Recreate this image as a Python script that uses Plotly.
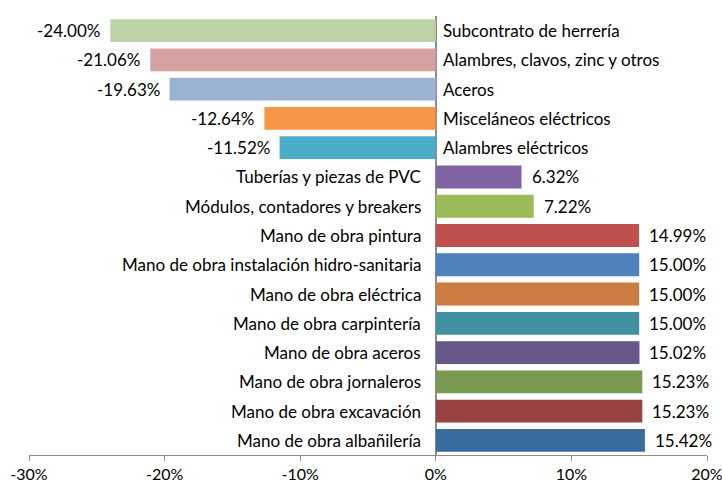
import plotly.graph_objects as go

categories = [
    "Subcontrato de herrería",
    "Alambres, clavos, zinc y otros",
    "Aceros",
    "Misceláneos eléctricos",
    "Alambres eléctricos",
    "Tuberías y piezas de PVC",
    "Módulos, contadores y breakers",
    "Mano de obra pintura",
    "Mano de obra instalación hidro-sanitaria",
    "Mano de obra eléctrica",
    "Mano de obra carpintería",
    "Mano de obra aceros",
    "Mano de obra jornaleros",
    "Mano de obra excavación",
    "Mano de obra albañilería",
]
values = [-24.00, -21.06, -19.63, -12.64, -11.52, 6.32, 7.22, 14.99, 15.00,
          15.00, 15.00, 15.02, 15.23, 15.23, 15.42]
colors = ["#BCD3A6", "#D5A2A1", "#9CB2D2", "#F79646", "#4BACC6", "#8064A2",
          "#9BBB59", "#C0504D", "#4F81BD", "#CB7C40", "#3F91A3", "#68578A",
          "#789A50", "#984341", "#3A6C9D"]
tick_vals = [-30, -20, -10, 0, 10, 20]
tick_text = ["-30%", "-20%", "-10%", "0%", "10%", "20%"]

FONT = "Lato, Open Sans, sans-serif"
FS = 17

fig = go.Figure()
fig.add_trace(go.Bar(
    x=values, y=categories, orientation="h",
    marker=dict(color=colors, line=dict(width=0)),
    hoverinfo="skip",
))

annotations = []
for c, v in zip(categories, values):
    lab = f"{v:.2f}%"
    if v < 0:
        annotations.append(dict(x=0, y=c, xref="x", yref="y", text=c,
                                showarrow=False, xanchor="left", xshift=5,
                                font=dict(family=FONT, size=FS, color="black")))
        annotations.append(dict(x=v, y=c, xref="x", yref="y", text=lab,
                                showarrow=False, xanchor="right", xshift=-8,
                                font=dict(family=FONT, size=FS, color="black")))
    else:
        annotations.append(dict(x=0, y=c, xref="x", yref="y", text=c,
                                showarrow=False, xanchor="right", xshift=-13,
                                font=dict(family=FONT, size=FS, color="black")))
        annotations.append(dict(x=v, y=c, xref="x", yref="y", text=lab,
                                showarrow=False, xanchor="left", xshift=8,
                                font=dict(family=FONT, size=FS, color="black")))

fig.update_layout(
    width=722, height=485,
    margin=dict(l=29, r=15, t=16, b=30, autoexpand=False),
    paper_bgcolor="white", plot_bgcolor="white",
    showlegend=False,
    bargap=0.22,
    annotations=annotations,
)
fig.update_xaxes(
    range=[-30, 20], tickvals=tick_vals, ticktext=tick_text,
    showgrid=False, zeroline=True, zerolinecolor="#8C8C8C", zerolinewidth=1.5,
    showline=True, linecolor="#8C8C8C", linewidth=1,
    ticks="outside", ticklen=5, tickcolor="#8C8C8C",
    tickfont=dict(family=FONT, size=16, color="black"),
    ticklabeloverflow="allow",
    automargin=False,
    fixedrange=True,
)
fig.update_yaxes(
    categoryorder="array", categoryarray=categories, autorange="reversed",
    showticklabels=False, showgrid=False, showline=False, ticks="",
    automargin=False,
    fixedrange=True,
)

fig.write_html(
    "out.html",
    config={"displayModeBar": False},
    post_script="document.body.style.margin='0';document.body.style.overflow='hidden';",
)
